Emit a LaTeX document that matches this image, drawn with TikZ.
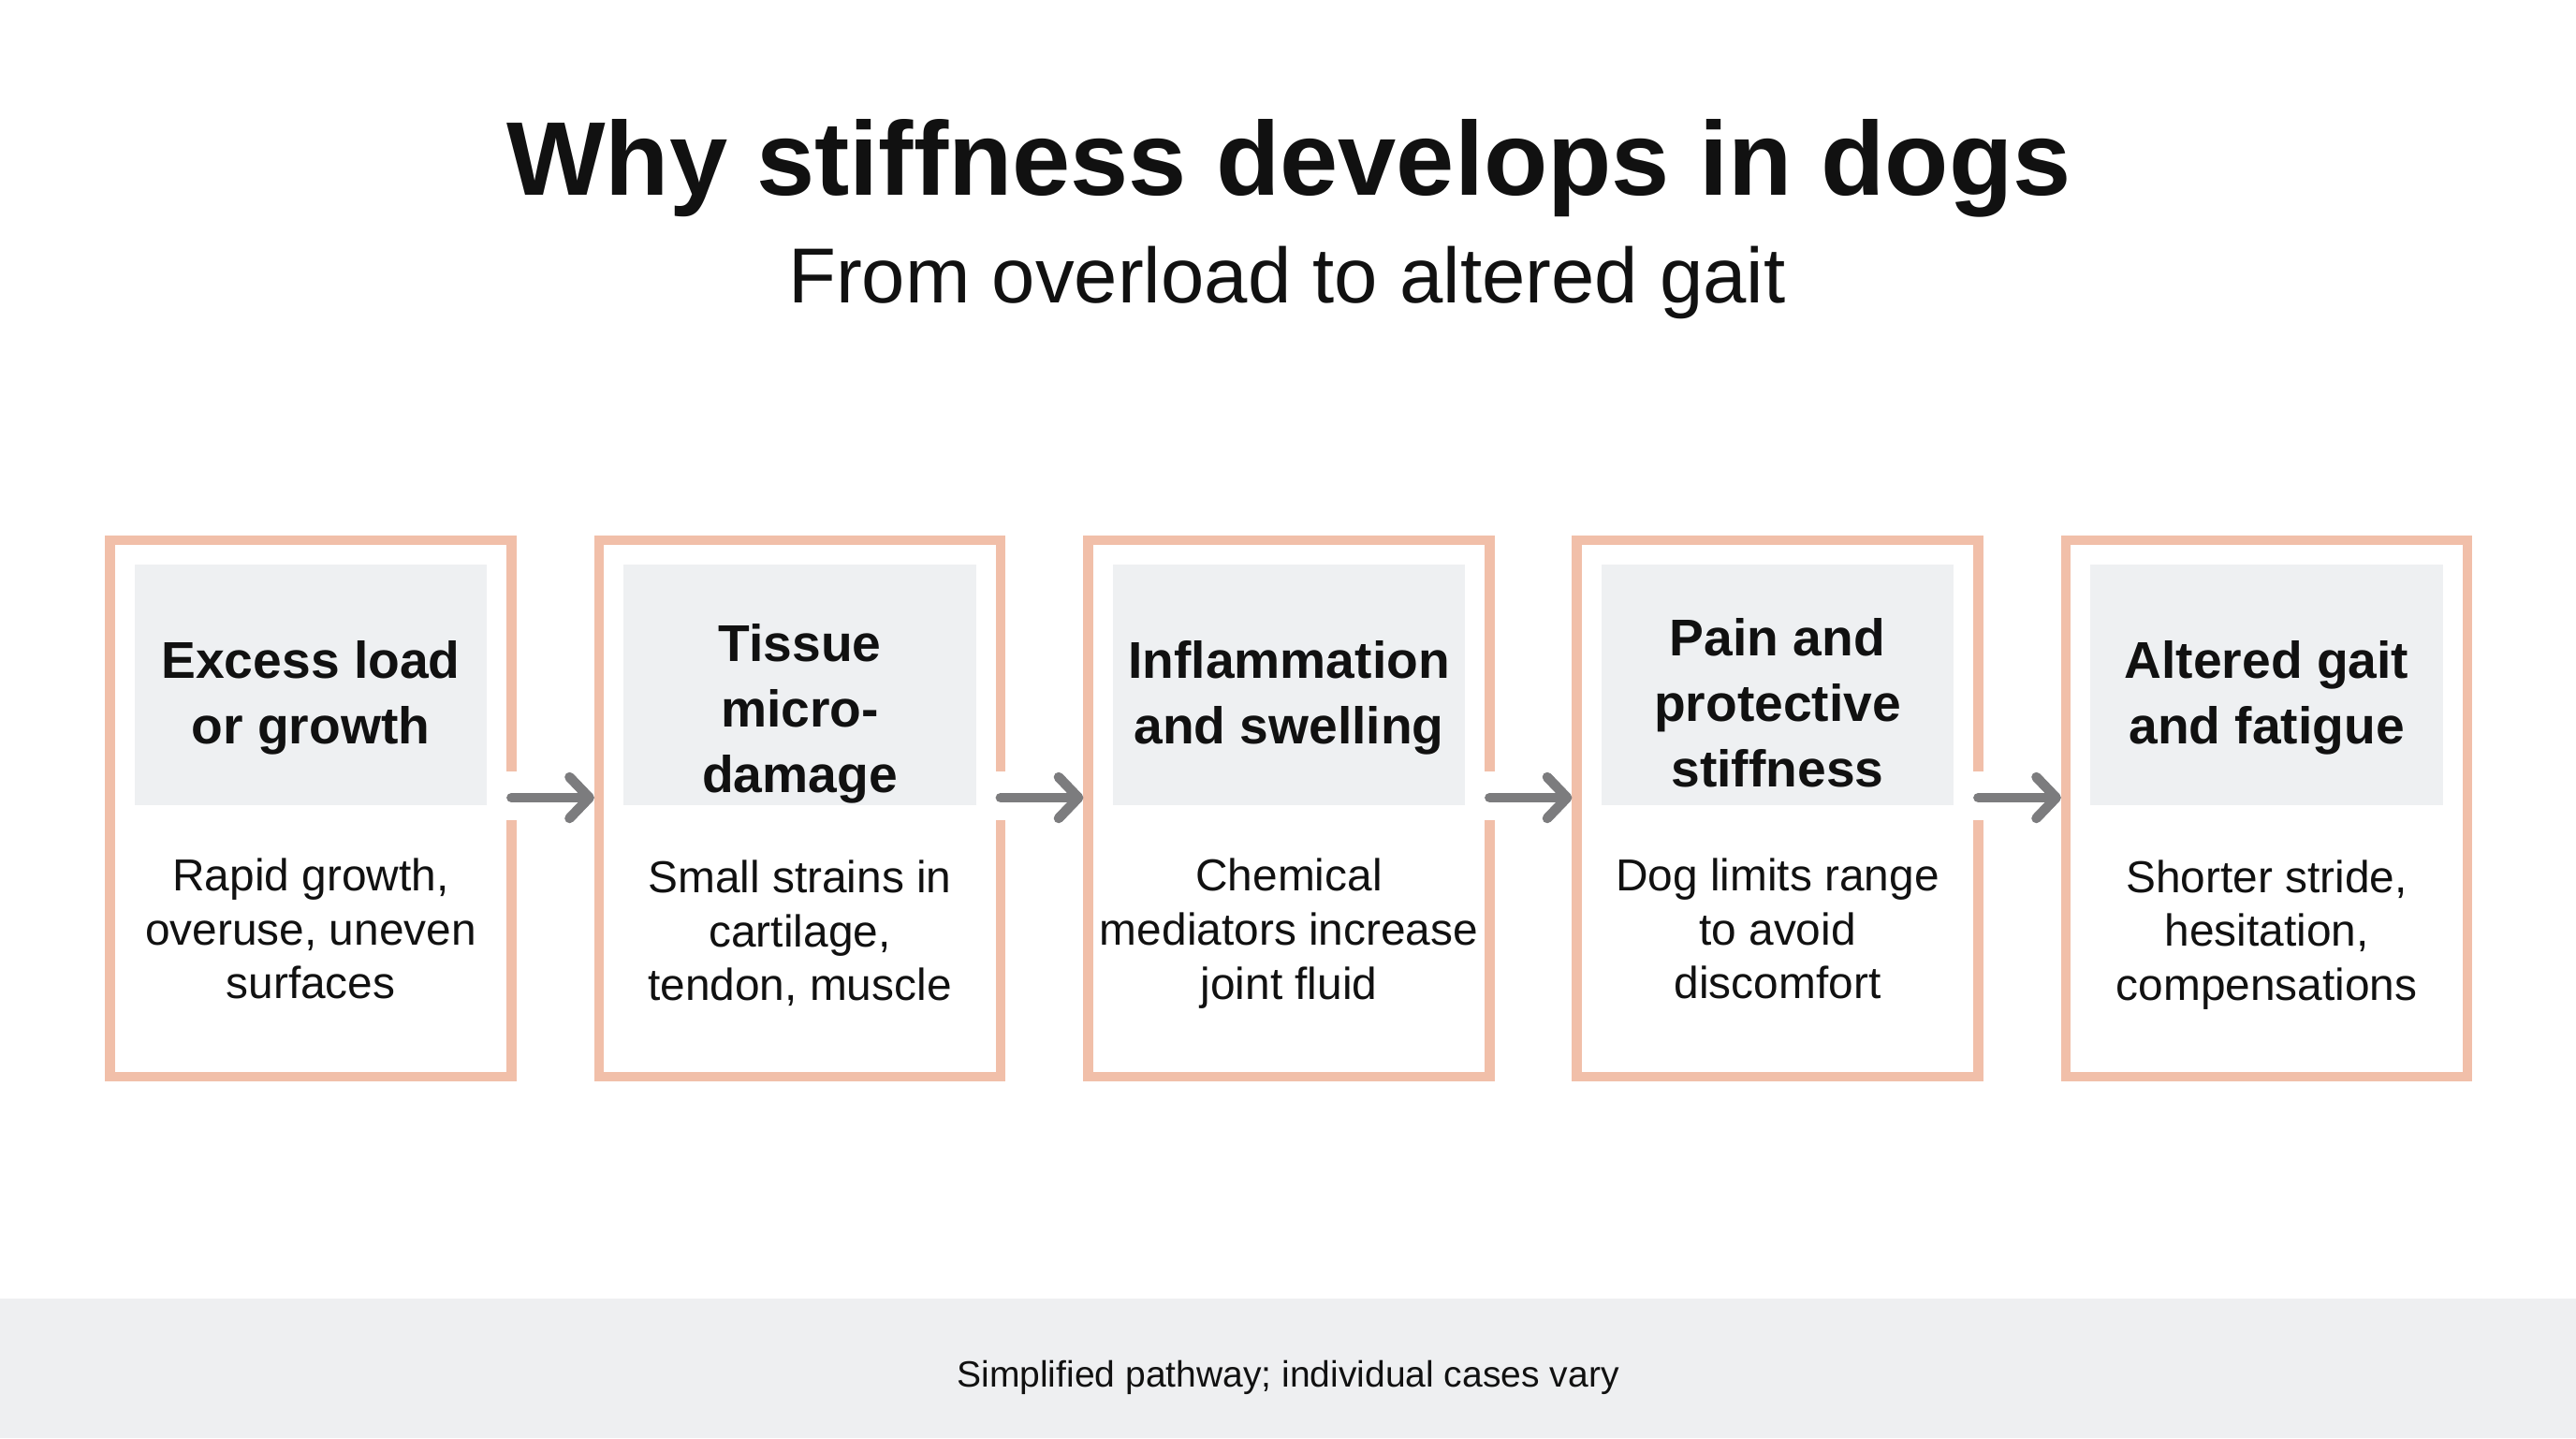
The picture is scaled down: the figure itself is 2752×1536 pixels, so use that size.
\documentclass[tikz,border=0pt]{standalone}
\usepackage{fontspec}
\setmainfont{Liberation Sans}
\usetikzlibrary{arrows.meta,calc,positioning}
\definecolor{framecol}{HTML}{F1BFA9}
\definecolor{headgrey}{HTML}{EEF0F2}
\definecolor{footgrey}{HTML}{EEEFF1}
\definecolor{arrowgrey}{HTML}{7C7C7E}
\definecolor{inkcol}{HTML}{111111}
\begin{document}
\begin{tikzpicture}[x=0.01cm,y=-0.01cm,
  stagebox/.style={draw=framecol,line width=3pt,fill=white,minimum width=4.285cm,minimum height=5.725cm,inner sep=0pt,outer sep=0pt},
  headbox/.style={fill=headgrey,minimum width=3.76cm,minimum height=2.57cm,inner sep=0pt},
  headtext/.style={align=center,text=inkcol,font=\fontsize{15.7}{19.9}\selectfont\bfseries},
  bodytext/.style={align=center,text=inkcol,font=\fontsize{13.6}{16.4}\selectfont},
  flow/.style={draw=arrowgrey,line width=3pt,line cap=round,-{Straight Barb[round,length=6pt,width=12.5pt]},shorten >=1.5pt},
  gap/.style={fill=white}]
\useasboundingbox (0,0) rectangle (2752,1536);
\fill[white] (0,0) rectangle (2752,1536);
\fill[footgrey] (0,1387) rectangle (2752,1536);

\node[anchor=base,text=inkcol,font=\fontsize{31.8}{38}\selectfont\bfseries] (title) at (1377,208) {Why stiffness develops in dogs};
\node[anchor=base,text=inkcol,font=\fontsize{23.7}{28}\selectfont] (subtitle) at (1375,323) {From overload to altered gait};

\node[stagebox] (b1) at (332,863.5) {};
\node[stagebox] (b2) at (854.5,863.5) {};
\node[stagebox] (b3) at (1377,863.5) {};
\node[stagebox] (b4) at (1899,863.5) {};
\node[stagebox] (b5) at (2421.5,863.5) {};

\node[headbox] (h1) at (332,731.5) {};
\node[headbox] (h2) at (854.5,731.5) {};
\node[headbox] (h3) at (1377,731.5) {};
\node[headbox] (h4) at (1899,731.5) {};
\node[headbox] (h5) at (2421.5,731.5) {};

\node[headtext] (t1) at (332,745) {Excess load\\or growth};
\node[headtext] (t2) at (854.5,762) {Tissue\\micro-\\damage};
\node[headtext] (t3) at (1377,745) {Inflammation\\and swelling};
\node[headtext] (t4) at (1899,751) {Pain and\\protective\\stiffness};
\node[headtext] (t5) at (2421.5,745) {Altered gait\\and fatigue};

\node[bodytext] (d1) at (332,992) {Rapid growth,\\overuse, uneven\\surfaces};
\node[bodytext] (d2) at (854.5,997) {Small strains in\\cartilage,\\tendon, muscle};
\node[bodytext] (d3) at (1377,997) {Chemical\\mediators increase\\joint fluid};
\node[bodytext] (d4) at (1899,992) {Dog limits range\\to avoid\\discomfort};
\node[bodytext] (d5) at (2421.5,998.5) {Shorter stride,\\hesitation,\\compensations};

\fill[gap] ($(b1.east)+(-6,-40)$) rectangle ($(b1.east)+(6,12)$);
\fill[gap] ($(b2.east)+(-6,-40)$) rectangle ($(b2.east)+(6,12)$);
\fill[gap] ($(b3.east)+(-6,-40)$) rectangle ($(b3.east)+(6,12)$);
\fill[gap] ($(b4.east)+(-6,-40)$) rectangle ($(b4.east)+(6,12)$);

\draw[flow] ($(b1.east)+(0,-11.5)$) -- ($(b2.west)+(0,-11.5)$);
\draw[flow] ($(b2.east)+(0,-11.5)$) -- ($(b3.west)+(0,-11.5)$);
\draw[flow] ($(b3.east)+(0,-11.5)$) -- ($(b4.west)+(0,-11.5)$);
\draw[flow] ($(b4.east)+(0,-11.5)$) -- ($(b5.west)+(0,-11.5)$);

\node[text=inkcol,font=\fontsize{11.1}{13}\selectfont] (note) at (1376,1471) {Simplified pathway; individual cases vary};
\end{tikzpicture}
\end{document}
